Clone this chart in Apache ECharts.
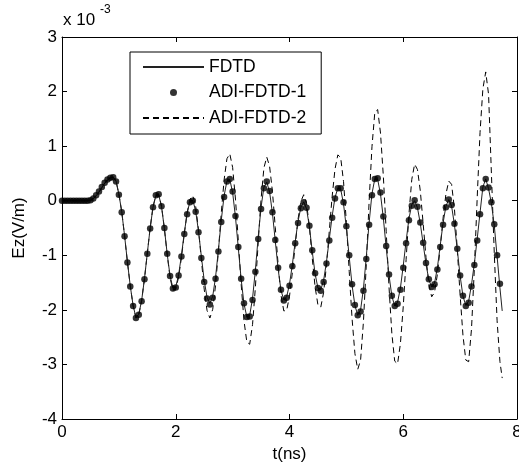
<!DOCTYPE html>
<html><head><meta charset="utf-8">
<script src="https://cdn.jsdelivr.net/npm/echarts@6/dist/echarts.min.js"></script>
<style>html,body{margin:0;padding:0;background:#fff}#c{width:519px;height:465px}</style>
</head><body><div id="c"></div>
<script>
// time in ns
const timeNs = [
0.00,0.05,0.10,0.15,0.20,0.25,0.30,0.35,0.40,0.45,
0.50,0.55,0.60,0.65,0.70,0.75,0.80,0.85,0.90,0.95,
1.00,1.05,1.10,1.15,1.20,1.25,1.30,1.35,1.40,1.45,
1.50,1.55,1.60,1.65,1.70,1.75,1.80,1.85,1.90,1.95,
2.00,2.05,2.10,2.15,2.20,2.25,2.30,2.35,2.40,2.45,
2.50,2.55,2.60,2.65,2.70,2.75,2.80,2.85,2.90,2.95,
3.00,3.05,3.10,3.15,3.20,3.25,3.30,3.35,3.40,3.45,
3.50,3.55,3.60,3.65,3.70,3.75,3.80,3.85,3.90,3.95,
4.00,4.05,4.10,4.15,4.20,4.25,4.30,4.35,4.40,4.45,
4.50,4.55,4.60,4.65,4.70,4.75,4.80,4.85,4.90,4.95,
5.00,5.05,5.10,5.15,5.20,5.25,5.30,5.35,5.40,5.45,
5.50,5.55,5.60,5.65,5.70,5.75,5.80,5.85,5.90,5.95,
6.00,6.05,6.10,6.15,6.20,6.25,6.30,6.35,6.40,6.45,
6.50,6.55,6.60,6.65,6.70,6.75,6.80,6.85,6.90,6.95,
7.00,7.05,7.10,7.15,7.20,7.25,7.30,7.35,7.40,7.45,
7.50,7.55,7.60,7.65,7.70,7.74
];
// Ez in units of 1e-3 V/m
const fdtd = [
0,0,0,0,0,0,0,0,0,0,
0.01,0.04,0.09,0.16,0.24,0.32,0.38,0.42,0.43,0.36,
0.12,-0.20,-0.64,-1.12,-1.56,-1.92,-2.14,-2.08,-1.83,-1.43,
-0.96,-0.50,-0.12,0.09,0.11,-0.11,-0.51,-0.98,-1.38,-1.60,
-1.58,-1.36,-1.00,-0.59,-0.23,-0.01,0.01,-0.19,-0.56,-1.02,
-1.46,-1.77,-1.88,-1.75,-1.40,-0.90,-0.36,0.09,0.36,0.39,
0.15,-0.30,-0.87,-1.44,-1.89,-2.13,-2.10,-1.79,-1.27,-0.66,
-0.12,0.25,0.34,0.16,-0.23,-0.74,-1.25,-1.64,-1.82,-1.76,
-1.53,-1.17,-0.75,-0.38,-0.12,-0.02,-0.15,-0.48,-0.93,-1.34,
-1.60,-1.63,-1.46,-1.12,-0.70,-0.28,0.06,0.23,0.21,-0.06,
-0.50,-1.03,-1.55,-1.92,-2.10,-2.00,-1.61,-1.03,-0.40,0.13,
0.40,0.39,0.12,-0.32,-0.86,-1.37,-1.75,-1.93,-1.86,-1.60,
-1.19,-0.74,-0.33,-0.07,0.00,-0.13,-0.42,-0.79,-1.16,-1.45,
-1.58,-1.51,-1.23,-0.82,-0.41,-0.10,0.02,-0.10,-0.44,-0.90,
-1.38,-1.75,-1.92,-1.84,-1.54,-1.15,-0.70,-0.22,0.25,0.40,
0.22,-0.05,-0.45,-1.02,-1.60,-2.02
];
const adiFdtd1 = [
0,0,0,0,0,0,0,0,0,0,
0.01,0.04,0.10,0.17,0.25,0.33,0.39,0.42,0.43,0.35,
0.11,-0.21,-0.65,-1.13,-1.57,-1.93,-2.15,-2.09,-1.84,-1.44,
-0.97,-0.51,-0.12,0.10,0.12,-0.10,-0.50,-0.97,-1.38,-1.61,
-1.59,-1.37,-1.02,-0.61,-0.25,-0.03,0.00,-0.20,-0.58,-1.05,
-1.49,-1.79,-1.90,-1.78,-1.43,-0.93,-0.39,0.07,0.35,0.40,
0.17,-0.28,-0.85,-1.43,-1.88,-2.13,-2.12,-1.82,-1.30,-0.70,
-0.15,0.23,0.35,0.18,-0.21,-0.72,-1.23,-1.63,-1.83,-1.78,
-1.56,-1.20,-0.78,-0.41,-0.14,-0.03,-0.13,-0.46,-0.91,-1.33,
-1.60,-1.65,-1.49,-1.15,-0.73,-0.31,0.04,0.23,0.23,-0.03,
-0.47,-1.00,-1.53,-1.91,-2.10,-2.03,-1.65,-1.07,-0.44,0.10,
0.40,0.41,0.15,-0.29,-0.83,-1.35,-1.74,-1.93,-1.89,-1.63,
-1.23,-0.78,-0.36,-0.09,0.01,-0.11,-0.40,-0.77,-1.14,-1.44,
-1.58,-1.53,-1.26,-0.85,-0.44,-0.12,0.02,-0.08,-0.42,-0.88,
-1.37,-1.74,-1.93,-1.87,-1.57,-1.18,-0.73,-0.25,0.23,0.40,
0.24,-0.03,-0.43,-1.00,-1.52,null
];
const adiFdtd2 = [
0,0,0,0,0,0,0,0,0,0,
0.01,0.04,0.09,0.16,0.24,0.32,0.38,0.42,0.43,0.36,
0.12,-0.20,-0.64,-1.12,-1.56,-1.92,-2.15,-2.09,-1.83,-1.43,
-0.96,-0.50,-0.11,0.10,0.12,-0.10,-0.51,-0.99,-1.41,-1.64,
-1.62,-1.40,-1.04,-0.61,-0.22,0.03,0.09,-0.10,-0.53,-1.08,
-1.62,-2.01,-2.15,-1.99,-1.55,-0.92,-0.23,0.38,0.77,0.86,
0.61,0.03,-0.73,-1.53,-2.20,-2.59,-2.63,-2.27,-1.59,-0.76,
0.03,0.60,0.80,0.63,0.17,-0.49,-1.17,-1.73,-2.02,-2.01,
-1.75,-1.32,-0.82,-0.34,-0.01,0.11,-0.05,-0.48,-1.05,-1.58,
-1.91,-1.95,-1.68,-1.18,-0.55,0.08,0.58,0.84,0.79,0.35,
-0.40,-1.30,-2.16,-2.80,-3.09,-2.92,-2.22,-1.17,-0.01,0.99,
1.62,1.67,1.24,0.45,-0.56,-1.59,-2.44,-2.94,-2.99,-2.62,
-1.94,-1.08,-0.25,0.39,0.67,0.57,0.18,-0.42,-1.04,-1.54,
-1.76,-1.68,-1.35,-0.86,-0.32,0.12,0.36,0.30,-0.15,-0.89,
-1.73,-2.47,-2.92,-2.95,-2.35,-1.25,0.05,1.25,2.05,2.36,
1.95,0.50,-0.95,-2.20,-2.95,-3.25
];
const seriesNames = ['FDTD', 'ADI-FDTD-1', 'ADI-FDTD-2'];
const xTicks = [0, 2, 4, 6, 8];
const yTicks = [-4, -3, -2, -1, 0, 1, 2, 3];
const xLabel = 't(ns)';
const yLabel = 'Ez(V/m)';
const scaleText = 'x 10';
const scaleExp = '-3';

const FONT = '"Liberation Sans", Arial, Helvetica, sans-serif';
const pair = arr => timeNs.map((t, i) => [t, arr[i]]);

const chart = echarts.init(document.getElementById('c'), null, {renderer: 'canvas'});
const xMin = xTicks[0], xMax = xTicks[xTicks.length - 1], xInt = xTicks[1] - xTicks[0];
const yMin = yTicks[0], yMax = yTicks[yTicks.length - 1], yInt = yTicks[1] - yTicks[0];

const axisCommon = {
  type: 'value',
  axisLine: {show: true, onZero: false, lineStyle: {color: '#000', width: 1}},
  axisTick: {show: true, inside: true, length: 5, lineStyle: {color: '#000', width: 1}},
  splitLine: {show: false},
  axisLabel: {color: '#000', fontSize: 17, fontFamily: FONT}
};

chart.setOption({
  animation: false,
  backgroundColor: '#fff',
  grid: {left: 62, right: 2, top: 37, bottom: 46, containLabel: false, outerBoundsMode: 'none'},
  xAxis: [
    Object.assign({}, axisCommon, {
      position: 'bottom', min: xMin, max: xMax, interval: xInt,
      name: xLabel, nameLocation: 'middle', nameGap: 25,
      nameTextStyle: {color: '#000', fontSize: 17, fontFamily: FONT},
      axisLabel: Object.assign({}, axisCommon.axisLabel, {margin: 5, showMaxLabel: true, showMinLabel: true, hideOverlap: false})
    }),
    Object.assign({}, axisCommon, {
      position: 'top', min: xMin, max: xMax, interval: xInt,
      axisLabel: {show: false}
    })
  ],
  yAxis: [
    Object.assign({}, axisCommon, {
      position: 'left', min: yMin, max: yMax, interval: yInt,
      name: yLabel, nameLocation: 'middle', nameGap: 34, nameRotate: 90,
      nameTextStyle: {color: '#000', fontSize: 17, fontFamily: FONT},
      axisLabel: Object.assign({}, axisCommon.axisLabel, {margin: 5, showMaxLabel: true, showMinLabel: true})
    }),
    Object.assign({}, axisCommon, {
      position: 'right', min: yMin, max: yMax, interval: yInt,
      axisLabel: {show: false}
    })
  ],
  legend: {
    orient: 'vertical', left: 130, top: 52,
    padding: [5, 15, 6, 12], itemGap: 5.5,
    itemWidth: 61, itemHeight: 7,
    borderColor: '#000', borderWidth: 1, borderRadius: 0,
    backgroundColor: '#fff',
    data: [
      {name: seriesNames[0], itemStyle: {opacity: 0}},
      {name: seriesNames[1]},
      {name: seriesNames[2], itemStyle: {opacity: 0}}
    ],
    textStyle: {color: '#000', fontSize: 17.5, fontFamily: FONT, lineHeight: 20}
  },
  graphic: [
    {type: 'text', left: 63, top: 12, style: {text: scaleText, fill: '#000', font: '17px ' + FONT}},
    {type: 'text', left: 100, top: 4, style: {text: scaleExp, fill: '#000', font: '12px ' + FONT}}
  ],
  series: [
    {
      name: seriesNames[2], type: 'line', data: pair(adiFdtd2), symbol: 'none', z: 1,
      lineStyle: {color: '#000', width: 1, type: [6, 4]}, itemStyle: {color: '#000'}
    },
    {
      name: seriesNames[0], type: 'line', data: pair(fdtd), symbol: 'none', z: 2,
      lineStyle: {color: '#222', width: 1}, itemStyle: {color: '#222'}
    },
    {
      name: seriesNames[1], type: 'scatter', data: pair(adiFdtd1), symbol: 'circle', symbolSize: 6.5, z: 3,
      itemStyle: {color: '#000'}
    }
  ]
});
</script></body></html>
